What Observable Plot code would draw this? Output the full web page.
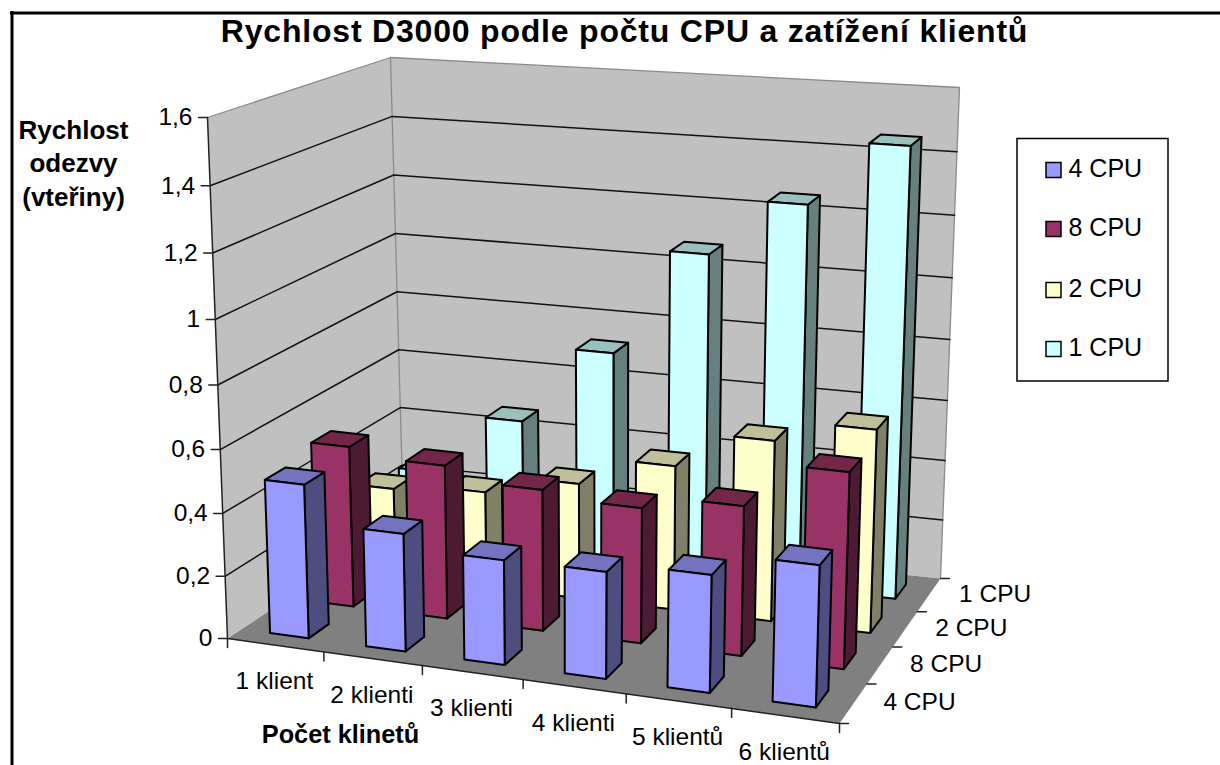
<!DOCTYPE html>
<html>
<head>
<meta charset="utf-8">
<style>html,body{margin:0;padding:0;background:#fff}svg{display:block}.ttl text{letter-spacing:0.8px}</style>
<script src="https://cdn.jsdelivr.net/npm/d3@7"></script>
<script src="https://cdn.jsdelivr.net/npm/@observablehq/plot@0.6"></script>
</head>
<body>
<script>
const clients = ["1 klient","2 klienti","3 klienti","4 klienti","5 klientů","6 klientů"];
const depthLabels = ["4 CPU","8 CPU","2 CPU","1 CPU"];
const legendLabels = ["4 CPU","8 CPU","2 CPU","1 CPU"];
const cpu4 = [0.49,0.373,0.33,0.334,0.365,0.435];
const cpu8 = [0.52,0.495,0.453,0.432,0.475,0.617];
const cpu2 = [0.293,0.316,0.378,0.47,0.585,0.654];
const cpu1 = [0.26,0.463,0.72,1.07,1.253,1.458];
const yTicks = [0,0.2,0.4,0.6,0.8,1,1.2,1.4,1.6];
const yMax = 1.6;
const faceColors = ["#9999FF","#993366","#FFFFCC","#CCFFFF"];
const topColors = ["#7373BF","#732649","#BFBF99","#99BFBF"];
const sideColors = ["#4D4D80","#4D1A33","#808066","#668080"];
const series = [cpu4,cpu8,cpu2,cpu1];

// Camera of the 3D box: screen position of the eight box corners
const box = {
  fl0:[227,638], fr0:[839,723], bl0:[403,522], br0:[940,578],
  fl1:[207,117], fr1:[855,173], bl1:[390,57],  br1:[959,87]
};
const warp = (t,k) => t/(t+k*(1-t));
const lerp = (a,b,t) => a+(b-a)*t;
const bil = (f,r,b,c,u,s,d) => lerp(lerp(f[d],r[d],u),lerp(b[d],c[d],u),s);
function project(u,s,v){
  const U=warp(u,1.07), S=warp(s,0.894);
  const kv=lerp(1.055,lerp(1.015,1.055,U),S);
  const V=warp(v/yMax,kv);
  const at=d=>lerp(bil(box.fl0,box.fr0,box.bl0,box.br0,U,S,d),bil(box.fl1,box.fr1,box.bl1,box.br1,U,S,d),V);
  return [at(0),at(1)];
}
// polygons, painter's order
const polys=[]; let pid=0;
function poly(corners,fill){const id=pid++;for(const [u,s,v] of corners){const [x,y]=project(u,s,v);polys.push({id,x,y,fill});}}
const bars=[];
function barPoly(corners,fill){const id=pid++;for(const [u,s,v] of corners){const [x,y]=project(u,s,v);bars.push({id,x,y,fill});}}
poly([[0,0,0],[0,1,0],[0,1,yMax],[0,0,yMax]],"#C0C0C0");
poly([[0,1,0],[1,1,0],[1,1,yMax],[0,1,yMax]],"#C0C0C0");
poly([[0,0,0],[1,0,0],[1,1,0],[0,1,0]],"#808080");
for(let j=3;j>=0;j--){
  series[j].forEach((val,i)=>{
    const u0=(i+0.30)/6,u1=(i+0.705)/6,s0=(j+0.29)/4,s1=(j+0.73)/4;
    barPoly([[u1,s0,0],[u1,s1,0],[u1,s1,val],[u1,s0,val]],sideColors[j]);
    barPoly([[u0,s0,val],[u1,s0,val],[u1,s1,val],[u0,s1,val]],topColors[j]);
    barPoly([[u0,s0,0],[u1,s0,0],[u1,s0,val],[u0,s0,val]],faceColors[j]);
  });
}
// grid lines and ticks
let lid=0;
function seg(arr,pts){const id=lid++;for(const p of pts)arr.push({id,x:p[0],y:p[1]});}
const grid=[],edges=[],axis=[];
yTicks.forEach(t=>{
  if(t>0&&t<yMax) seg(grid,[project(0,0,t),project(0,1,t),project(1,1,t)]);
  const p=project(0,0,t); seg(axis,[[p[0]-9,p[1]],p]);
});
seg(edges,[project(0,0,yMax),project(0,1,yMax),project(1,1,yMax),project(1,1,0)]);
seg(edges,[project(0,1,0),project(0,1,yMax)]);
seg(axis,[project(0,0,0),project(0,0,yMax)]);
seg(axis,[project(0,0,0),project(1,0,0)]);
clients.forEach((c,i)=>{const p=project(i/6,0,0);seg(axis,[p,[p[0],p[1]+9]]);});
{const p=project(1,0,0);seg(axis,[p,[p[0],p[1]+9]]);}
depthLabels.forEach((c,j)=>{const p=project(1,j/4,0);seg(axis,[p,[p[0]+9,p[1]]]);});
{const p=project(1,1,0);seg(axis,[p,[p[0]+9,p[1]]]);}

const F="Liberation Sans, Arial, sans-serif";
const yLab=yTicks.map(t=>{const p=project(0,0,t);return {x:p[0]-15,y:p[1],t:String(t).replace(".",",")};});
const xLabels=clients.map((c,i)=>{const p=project((i+0.5)/6,0,0);return {x:p[0]-1,y:p[1]+36,t:c};});
const dLabels=depthLabels.map((c,j)=>{const p=project(1,(j+0.5)/4,0);return {x:p[0]+30,y:p[1]-1,t:c};});
const legend=legendLabels.map((t,i)=>({t,i,c:faceColors[i]}));
const legendY=[170,229,290,349];

const chart=Plot.plot({
  width:1220,height:765,margin:0,
  style:{background:"#fff",fontFamily:F},
  x:{domain:[0,1220],range:[0,1220],axis:null},
  y:{domain:[0,765],range:[0,765],axis:null},
  color:{type:"identity"},
  marks:[
    Plot.line(polys,{x:"x",y:"y",z:"id",fill:"fill",stroke:null,curve:"linear-closed"}),
    Plot.line(edges,{x:"x",y:"y",z:"id",stroke:"#8a8a8a",strokeWidth:1.3}),
    Plot.line(grid,{x:"x",y:"y",z:"id",stroke:"#111",strokeWidth:1.5}),
    Plot.line(axis,{x:"x",y:"y",z:"id",stroke:"#222",strokeWidth:1.5}),
    Plot.line(bars,{x:"x",y:"y",z:"id",fill:"fill",stroke:"#000",strokeWidth:2,curve:"linear-closed",strokeLinejoin:"round"}),
    Plot.ruleX([11.5],{y1:11,y2:765,stroke:"#000",strokeWidth:3}),
    Plot.ruleY([12.5],{x1:10,x2:1220,stroke:"#000",strokeWidth:3}),
    Plot.text(["Rychlost D3000 podle počtu CPU a zatížení klientů"],{x:()=>624,y:()=>31,text:d=>d,fontSize:32,fontWeight:"bold",fill:"#000",fontFamily:F,className:"ttl"}),
    Plot.text(yLab,{x:"x",y:"y",text:"t",textAnchor:"end",fontSize:24.5,fill:"#000",fontFamily:F}),
    Plot.text(xLabels,{x:"x",y:"y",text:"t",fontSize:24.5,fill:"#000",fontFamily:F}),
    Plot.text(dLabels,{x:"x",y:"y",text:"t",textAnchor:"start",fontSize:24.5,fill:"#000",fontFamily:F}),
    Plot.text(["Rychlost","odezvy","(vteřiny)"],{x:()=>73,y:(d,i)=>130+i*33.5,text:d=>d,fontSize:26,fontWeight:"bold",fill:"#000",fontFamily:F}),
    Plot.text(["Počet klinetů"],{x:()=>340,y:()=>734,text:d=>d,fontSize:25.3,fontWeight:"bold",fill:"#000",fontFamily:F}),
    Plot.rect([0],{x1:()=>1017,x2:()=>1168,y1:()=>138.5,y2:()=>381,fill:"#fff",stroke:"#000",strokeWidth:1.5}),
    Plot.rect(legend,{x1:()=>1046,x2:()=>1061,y1:d=>legendY[d.i]-7.5,y2:d=>legendY[d.i]+7.5,fill:"c",stroke:"#000",strokeWidth:1.5}),
    Plot.text(legend,{x:()=>1068,y:d=>legendY[d.i]-2,text:"t",textAnchor:"start",fontSize:25,fill:"#000",fontFamily:F})
  ]
});
document.body.appendChild(chart);
</script>
</body>
</html>
